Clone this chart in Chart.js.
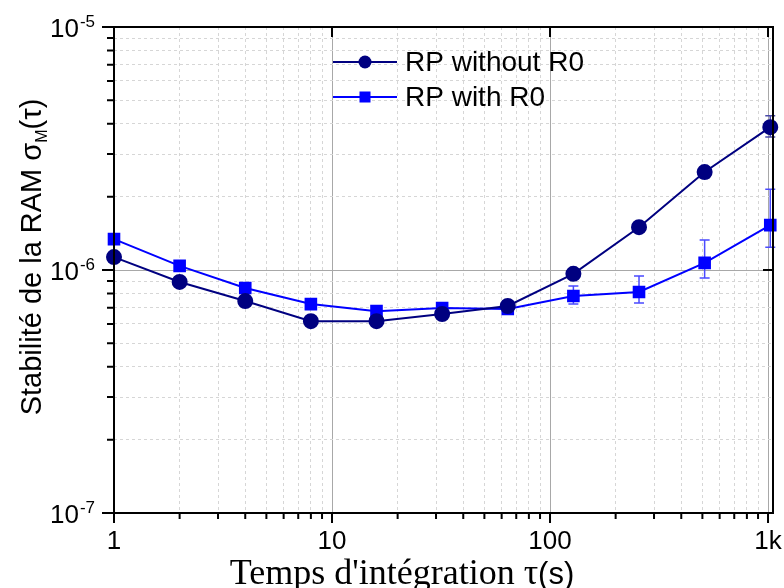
<!DOCTYPE html>
<html lang="fr">
<head>
<meta charset="UTF-8">
<title>Stabilité de la RAM</title>
<script src="https://cdn.jsdelivr.net/npm/chart.js"></script>
<style>
  html, body { margin: 0; padding: 0; background: #fff; }
  #wrap { width: 784px; height: 588px; }
</style>
</head>
<body>
<div id="wrap"><canvas id="chart"></canvas></div>
<script>
// integration times (s)
const tau = [1, 2, 4, 8, 16, 32, 64, 128, 256, 512, 1024];

// RP without R0
const withoutR0 = [1.13e-6, 8.93e-7, 7.45e-7, 6.16e-7, 6.16e-7, 6.59e-7, 7.11e-7, 9.64e-7, 1.50e-6, 2.53e-6, 3.87e-6];
const withoutR0Lo = [null, null, null, null, null, null, null, null, 1.47e-6, 2.39e-6, 3.53e-6];
const withoutR0Hi = [null, null, null, null, null, null, null, null, 1.54e-6, 2.65e-6, 4.31e-6];

// RP with R0
const withR0 = [1.34e-6, 1.04e-6, 8.43e-7, 7.24e-7, 6.77e-7, 6.98e-7, 6.91e-7, 7.82e-7, 8.12e-7, 1.07e-6, 1.53e-6];
const withR0Lo = [null, null, null, null, null, null, 6.72e-7, 7.24e-7, 7.31e-7, 9.27e-7, 1.24e-6];
const withR0Hi = [null, null, null, null, null, null, 7.12e-7, 8.59e-7, 9.44e-7, 1.33e-6, 2.15e-6];

// tick labels
const xTickValues = [1, 10, 100, 1000];
const xTickLabels = ['1', '10', '100', '1k'];
const yTickExps = [-7, -6, -5];

const SANS = "'Liberation Sans', Arial, sans-serif";
const SERIF = "'Liberation Serif', 'Times New Roman', serif";
const NAVY = '#000080';
const BLUE = '#0000ff';

function logTicks(from, to) {
  const out = [];
  for (let d = from; d < to; d *= 10) {
    for (let m = 1; m < 10; m++) out.push({ value: m * d, major: m === 1 });
  }
  out.push({ value: to, major: true });
  return out;
}

const series = [
  { data: withoutR0, lo: withoutR0Lo, hi: withoutR0Hi, errColor: '#4848a8' },
  { data: withR0, lo: withR0Lo, hi: withR0Hi, errColor: '#4a4aff' }
];

const decor = {
  id: 'decor',
  beforeDatasetsDraw(chart) {
    const { ctx, scales: { x, y } } = chart;
    ctx.save();
    ctx.lineWidth = 1.5;
    series.forEach(s => {
      ctx.strokeStyle = s.errColor;
      tau.forEach((t, i) => {
        if (s.lo[i] == null) return;
        const px = x.getPixelForValue(t);
        const y1 = y.getPixelForValue(s.hi[i]);
        const y2 = y.getPixelForValue(s.lo[i]);
        ctx.beginPath();
        ctx.moveTo(px, y1); ctx.lineTo(px, y2);
        ctx.moveTo(px - 5, y1); ctx.lineTo(px + 5, y1);
        ctx.moveTo(px - 5, y2); ctx.lineTo(px + 5, y2);
        ctx.stroke();
      });
    });
    ctx.restore();
  },
  afterDraw(chart) {
    const { ctx, chartArea: a, scales: { x, y } } = chart;
    ctx.save();

    // frame
    ctx.strokeStyle = '#000';
    ctx.lineWidth = 2;
    ctx.strokeRect(a.left, a.top, a.right - a.left, a.bottom - a.top);

    // ticks
    ctx.beginPath();
    x.ticks.forEach(t => {
      const px = x.getPixelForValue(t.value);
      ctx.moveTo(px, a.bottom); ctx.lineTo(px, a.bottom + (t.major ? 10 : 6));
      if (t.major) { ctx.moveTo(px, a.top); ctx.lineTo(px, a.top + 10); }
    });
    y.ticks.forEach(t => {
      const py = y.getPixelForValue(t.value);
      ctx.moveTo(a.left, py); ctx.lineTo(a.left - (t.major ? 12 : 7), py);
      if (t.major) { ctx.moveTo(a.right, py); ctx.lineTo(a.right - 10, py); }
    });
    ctx.stroke();

    // x tick labels
    ctx.fillStyle = '#000';
    ctx.font = '26px ' + SANS;
    ctx.textAlign = 'center';
    ctx.textBaseline = 'middle';
    xTickValues.forEach((v, i) => {
      ctx.fillText(xTickLabels[i], x.getPixelForValue(v), 542);
    });

    // y tick labels: 10 with superscript exponent
    ctx.textBaseline = 'alphabetic';
    ctx.textAlign = 'right';
    yTickExps.forEach(e => {
      const py = y.getPixelForValue(Math.pow(10, e));
      ctx.font = '17px ' + SANS;
      const sup = String(e);
      ctx.fillText(sup, 95, py);
      const w = ctx.measureText(sup).width;
      ctx.font = '26px ' + SANS;
      ctx.fillText('10', 95 - w - 1, py + 9.5);
    });

    // x axis title
    ctx.textAlign = 'left';
    const t1 = "Temps d'intégration τ";
    const t2 = '(s)';
    ctx.font = '36px ' + SERIF;
    const w1 = ctx.measureText(t1).width;
    ctx.font = '31px ' + SANS;
    const w2 = ctx.measureText(t2).width;
    const sx = 402 - (w1 + w2) / 2;
    ctx.font = '36px ' + SERIF;
    ctx.fillText(t1, sx, 584);
    ctx.font = '31px ' + SANS;
    ctx.fillText(t2, sx + w1, 584);

    // y axis title
    ctx.save();
    ctx.translate(41, 257);
    ctx.rotate(-Math.PI / 2);
    const parts = [
      { text: 'Stabilité de la RAM σ', font: '29px ' + SANS, dy: 0 },
      { text: 'M', font: '16px ' + SANS, dy: 6 },
      { text: '(τ)', font: '29px ' + SANS, dy: 0 }
    ];
    let total = 0;
    parts.forEach(p => { ctx.font = p.font; p.w = ctx.measureText(p.text).width; total += p.w; });
    let cx = -total / 2;
    parts.forEach(p => {
      ctx.font = p.font;
      ctx.fillText(p.text, cx, p.dy);
      cx += p.w;
    });
    ctx.restore();

    // legend
    const legend = [
      { label: chart.data.datasets[0].label, color: NAVY, style: 'circle', y: 62 },
      { label: chart.data.datasets[1].label, color: BLUE, style: 'rect', y: 97 }
    ];
    ctx.font = '28px ' + SANS;
    ctx.textBaseline = 'middle';
    legend.forEach(l => {
      ctx.strokeStyle = l.color;
      ctx.fillStyle = l.color;
      ctx.lineWidth = 2;
      ctx.beginPath();
      ctx.moveTo(333, l.y); ctx.lineTo(397, l.y);
      ctx.stroke();
      if (l.style === 'circle') {
        ctx.beginPath();
        ctx.arc(365, l.y, 6.5, 0, Math.PI * 2);
        ctx.fill();
      } else {
        ctx.fillRect(359.5, l.y - 5.5, 11, 11);
      }
      ctx.fillStyle = '#000';
      ctx.fillText(l.label, 405, l.y + 1);
    });

    ctx.restore();
  }
};

new Chart(document.getElementById('chart'), {
  type: 'line',
  data: {
    datasets: [
      {
        label: 'RP without R0',
        data: tau.map((t, i) => ({ x: t, y: withoutR0[i] })),
        borderColor: NAVY,
        backgroundColor: NAVY,
        pointBorderColor: NAVY,
        pointBackgroundColor: NAVY,
        borderWidth: 2,
        pointStyle: 'circle',
        pointRadius: 7,
        pointHoverRadius: 7,
        clip: false
      },
      {
        label: 'RP with R0',
        data: tau.map((t, i) => ({ x: t, y: withR0[i] })),
        borderColor: BLUE,
        backgroundColor: BLUE,
        pointBorderColor: BLUE,
        pointBackgroundColor: BLUE,
        borderWidth: 2,
        pointStyle: 'rect',
        pointRadius: 7.5,
        pointHoverRadius: 7.5,
        clip: false
      }
    ]
  },
  options: {
    responsive: true,
    maintainAspectRatio: false,
    animation: false,
    layout: { padding: { top: 27, right: 11, left: 0, bottom: 0 } },
    plugins: {
      legend: { display: false },
      tooltip: { enabled: false }
    },
    scales: {
      x: {
        type: 'logarithmic',
        min: 1,
        max: 1054,
        afterBuildTicks: s => { s.ticks = logTicks(1, 1000); },
        afterFit: s => { s.height = 75; },
        ticks: { display: false },
        grid: {
          drawTicks: false,
          lineWidth: 1,
          color: c => (c.tick && c.tick.major ? '#a8a8a8' : '#d6d6d6')
        },
        border: { display: false, dash: c => (c.tick && !c.tick.major ? [3, 3] : []) }
      },
      y: {
        type: 'logarithmic',
        min: 1e-7,
        max: 1e-5,
        afterBuildTicks: s => { s.ticks = logTicks(1e-7, 1e-5); },
        afterFit: s => { s.width = 114; },
        ticks: { display: false },
        grid: {
          drawTicks: false,
          lineWidth: 1,
          color: c => (c.tick && c.tick.major ? '#a8a8a8' : '#d6d6d6')
        },
        border: { display: false, dash: c => (c.tick && !c.tick.major ? [3, 3] : []) }
      }
    }
  },
  plugins: [decor]
});
</script>
</body>
</html>
